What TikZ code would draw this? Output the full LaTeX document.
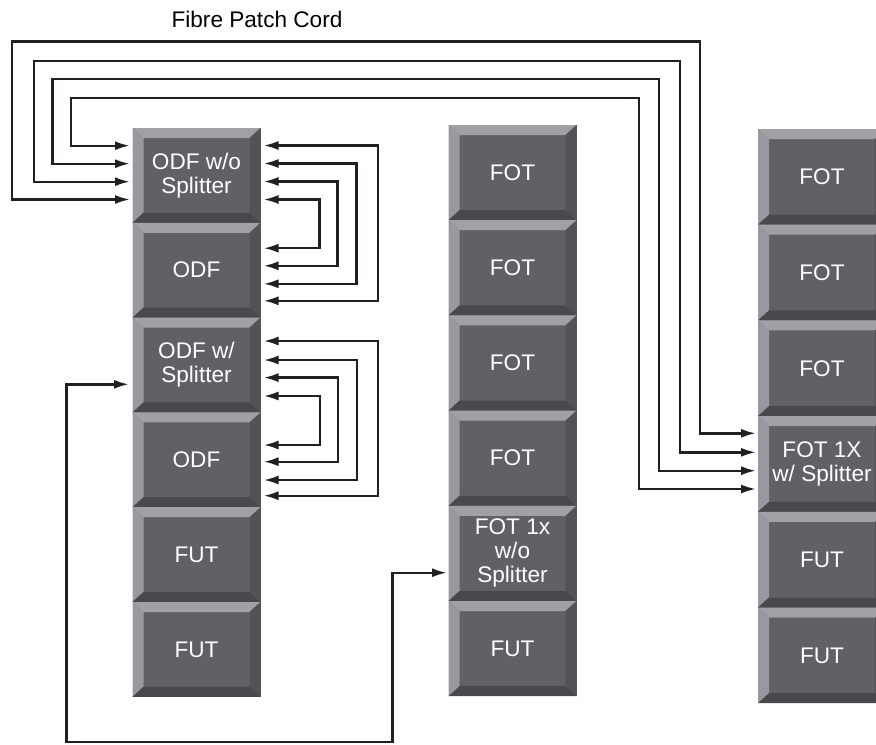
\documentclass[tikz,border=0pt]{standalone}
\usepackage{fontspec}
\setmainfont{Liberation Sans}
\usetikzlibrary{positioning,calc,arrows.meta}
\definecolor{rackface}{RGB}{96,97,101}
\definecolor{racktop}{RGB}{160,161,164}
\definecolor{rackleft}{RGB}{152,153,157}
\definecolor{rackright}{RGB}{82,83,86}
\definecolor{rackbot}{RGB}{72,73,76}
\definecolor{cordcol}{RGB}{35,31,32}
\begin{document}
\begin{tikzpicture}[x=0.5pt,y=-0.5pt,
  rack/.style={rectangle, inner sep=0pt, outer sep=0pt, minimum width=64pt,
    fill=rackface, text=white, align=center, font=\fontsize{11.3}{12}\selectfont,
    path picture={
      \coordinate (pa) at (path picture bounding box.north west);
      \coordinate (pb) at (path picture bounding box.north east);
      \coordinate (pc) at (path picture bounding box.south east);
      \coordinate (pd) at (path picture bounding box.south west);
      \coordinate (qa) at ([xshift=5.5pt,yshift=-5pt]pa);
      \coordinate (qb) at ([xshift=-5.5pt,yshift=-5pt]pb);
      \coordinate (qc) at ([xshift=-5.5pt,yshift=5pt]pc);
      \coordinate (qd) at ([xshift=5.5pt,yshift=5pt]pd);
      \fill[racktop] (pa) -- (pb) -- (qb) -- (qa) -- cycle;
      \fill[rackleft] (pa) -- (qa) -- (qd) -- (pd) -- cycle;
      \fill[rackright] (pb) -- (pc) -- (qc) -- (qb) -- cycle;
      \fill[rackbot] (pd) -- (pc) -- (qc) -- (qd) -- cycle;
    }},
  lcol/.style={rack, minimum height=47.4pt},
  mcol/.style={rack, minimum height=47.6pt},
  rcol/.style={rack, minimum height=47.85pt},
  cord/.style={cordcol, line width=1.2pt, >={Latex[length=7.5pt,width=4.5pt]}, <->}]
\useasboundingbox (0,0) rectangle (876,744);
\clip (0,0) rectangle (876,744);

\node[font=\fontsize{11.3}{12}\selectfont] (title) at (257,19) {Fibre Patch Cord};

\node[lcol] (odfa) at (196.5,175.4) {ODF w/o\\Splitter};
\node[lcol, below=0pt of odfa] (odfb) {ODF};
\node[lcol, below=0pt of odfb] (odfc) {ODF w/\\Splitter};
\node[lcol, below=0pt of odfc] (odfd) {ODF};
\node[lcol, below=0pt of odfd] (futa) {FUT};
\node[lcol, below=0pt of futa] (futb) {FUT};

\node[mcol] (fota) at (512.5,172.6) {FOT};
\node[mcol, below=0pt of fota] (fotb) {FOT};
\node[mcol, below=0pt of fotb] (fotc) {FOT};
\node[mcol, below=0pt of fotc] (fotd) {FOT};
\node[mcol, below=0pt of fotd] (fote) {FOT 1x\\w/o\\Splitter};
\node[mcol, below=0pt of fote] (futc) {FUT};

\node[rcol] (fotf) at (822,176.85) {FOT};
\node[rcol, below=0pt of fotf] (fotg) {FOT};
\node[rcol, below=0pt of fotg] (foth) {FOT};
\node[rcol, below=0pt of foth] (foti) {FOT 1X\\w/ Splitter};
\node[rcol, below=0pt of foti] (futd) {FUT};
\node[rcol, below=0pt of futd] (fute) {FUT};

\draw[cord] ($(odfa.north west)+(-2.5,17.7)$) -- ++(-59,0) -- ++(0,-48) -- ++(568,0) |- ($(foti.north west)+(-2,72.9)$);
\draw[cord] ($(odfa.north west)+(-2.5,35.7)$) -- ++(-77.5,0) -- ++(0,-85) -- ++(606.5,0) |- ($(foti.north west)+(-2,54.6)$);
\draw[cord] ($(odfa.north west)+(-2.5,53.7)$) -- ++(-96,0) -- ++(0,-121) -- ++(646,0) |- ($(foti.north west)+(-2,36.2)$);
\draw[cord] ($(odfa.north west)+(-2.5,71.5)$) -- ++(-118,0) -- ++(0,-158) -- ++(688,0) |- ($(foti.north west)+(-2,17.2)$);

\draw[cord] ($(odfa.north east)+(3,17.5)$) -- ++(114.2,0) |- ($(odfb.north east)+(3,78)$);
\draw[cord] ($(odfa.north east)+(3,35.5)$) -- ++(93,0) |- ($(odfb.north east)+(3,61)$);
\draw[cord] ($(odfa.north east)+(3,53.5)$) -- ++(73.8,0) |- ($(odfb.north east)+(3,43)$);
\draw[cord] ($(odfa.north east)+(3,71.5)$) -- ++(56,0) |- ($(odfb.north east)+(3,25.4)$);

\draw[cord] ($(odfc.north east)+(3,23.4)$) -- ++(114.2,0) |- ($(odfd.north east)+(3,83.3)$);
\draw[cord] ($(odfc.north east)+(3,42.4)$) -- ++(93.2,0) |- ($(odfd.north east)+(3,67.6)$);
\draw[cord] ($(odfc.north east)+(3,60)$) -- ++(74.5,0) |- ($(odfd.north east)+(3,49.3)$);
\draw[cord] ($(odfc.north east)+(3,78.4)$) -- ++(56.5,0) |- ($(odfd.north east)+(3,32.6)$);

\draw[cord] ($(odfc.north west)+(-3.5,66.7)$) -- ++(-62.5,0) -- ++(0,357.7) -- ++(326,0) |- ($(fote.north west)+(-1.5,66.9)$);
\end{tikzpicture}
\end{document}
